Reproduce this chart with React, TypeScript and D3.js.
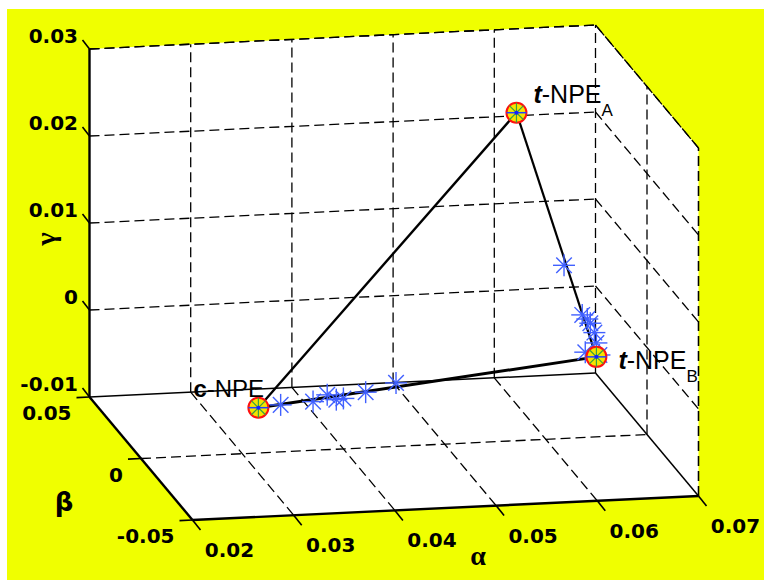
import React from "react";
import * as d3 from "d3";

// ---- data ----
const alphaTicks = [0.02, 0.03, 0.04, 0.05, 0.06, 0.07];
const betaTicks = [-0.05, 0, 0.05];
const gammaTicks = [-0.01, 0, 0.01, 0.02, 0.03];

const pointNames = ["c-NPE", "t-NPE_A", "t-NPE_B"];
const pointAlpha = [0.0316, 0.0571, 0.065];
const pointBeta = [0, 0, 0];
const pointGamma = [-0.0048, 0.0277, -0.0008];

const starAlpha = [0.0338, 0.037, 0.0384, 0.0393, 0.04, 0.0422, 0.0452, 0.0618, 0.0636, 0.0644, 0.065, 0.0639, 0.0653, 0.0648, 0.0641];
const starBeta = [0, 0, 0, 0, 0, 0, 0, 0, 0, 0, 0, 0, 0, 0, 0];
const starGamma = [-0.0046, -0.0044, -0.0037, -0.0043, -0.0042, -0.0036, -0.0027, 0.0099, 0.0041, 0.0031, 0.0008, -0.0002, -0.0006, 0.002, 0.0036];

// ---- projection ----
const W = 764, H = 580;
const sa = d3.scaleLinear().domain([0.02, 0.07]).range([0, 1]);
const sb = d3.scaleLinear().domain([0.05, -0.05]).range([0, 1]);
const sg = d3.scaleLinear().domain([-0.01, 0.03]).range([0, 1]);
const O = [89.5, 397];
const EA = [506, -24];
const EB = [103, 123];
const EG = [0, -348];
function P(a: number, b: number, g: number): [number, number] {
  const u = sa(a), v = sb(b), w = sg(g);
  return [O[0] + EA[0] * u + EB[0] * v + EG[0] * w, O[1] + EA[1] * u + EB[1] * v + EG[1] * w];
}
const aMin = 0.02, aMax = 0.07, bMin = -0.05, bMax = 0.05, gMin = -0.01, gMax = 0.03;

const line = d3.line<[number, number]>();
const fmt = (v: number) => (v === 0 ? "0" : v.toFixed(2));

function Seg({ p, q, dash, w = 1.3 }: { p: [number, number]; q: [number, number]; dash?: boolean; w?: number }) {
  return <line x1={p[0]} y1={p[1]} x2={q[0]} y2={q[1]} stroke="#000" strokeWidth={w} strokeDasharray={dash ? "10,5" : undefined} />;
}

function Star({ x, y, r = 11 }: { x: number; y: number; r?: number }) {
  const d = r * 0.707;
  return (
    <g stroke="#4060ff" strokeWidth={1.4}>
      <line x1={x - r} y1={y} x2={x + r} y2={y} />
      <line x1={x} y1={y - r} x2={x} y2={y + r} />
      <line x1={x - d} y1={y - d} x2={x + d} y2={y + d} />
      <line x1={x - d} y1={y + d} x2={x + d} y2={y - d} />
    </g>
  );
}

function MainMarker({ x, y }: { x: number; y: number }) {
  const r = 10, d = r * 0.707;
  return (
    <g>
      <circle cx={x} cy={y} r={r} fill="#f4e400" stroke="#ff1010" strokeWidth={2} />
      <g stroke="#3aa040" strokeWidth={1.2}>
        <line x1={x} y1={y - r} x2={x} y2={y + r} />
        <line x1={x - d} y1={y - d} x2={x + d} y2={y + d} />
        <line x1={x - d} y1={y + d} x2={x + d} y2={y - d} />
      </g>
      <line x1={x - r} y1={y} x2={x + r} y2={y} stroke="#2040ff" strokeWidth={1.5} />
      <circle cx={x} cy={y} r={2} fill="#1020ff" />
    </g>
  );
}

export default function App() {
  const hex = [P(aMin, bMax, gMax), P(aMax, bMax, gMax), P(aMax, bMin, gMax), P(aMax, bMin, gMin), P(aMin, bMin, gMin), P(aMin, bMax, gMin)];
  const grid: JSX.Element[] = [];
  let k = 0;
  // back wall (beta = 0.05)
  alphaTicks.slice(1).forEach((a) => grid.push(<Seg key={k++} p={P(a, bMax, gMin)} q={P(a, bMax, gMax)} dash />));
  gammaTicks.slice(1).forEach((g) => grid.push(<Seg key={k++} p={P(aMin, bMax, g)} q={P(aMax, bMax, g)} dash />));
  // right wall (alpha = 0.07)
  betaTicks.slice(0, 2).forEach((b) => grid.push(<Seg key={k++} p={P(aMax, b, gMin)} q={P(aMax, b, gMax)} dash />));
  gammaTicks.slice(1).forEach((g) => grid.push(<Seg key={k++} p={P(aMax, bMax, g)} q={P(aMax, bMin, g)} dash />));
  // floor
  alphaTicks.slice(1, -1).forEach((a) => grid.push(<Seg key={k++} p={P(a, bMax, gMin)} q={P(a, bMin, gMin)} dash />));
  grid.push(<Seg key={k++} p={P(aMin, 0, gMin)} q={P(aMax, 0, gMin)} dash />);
  // solid edges
  grid.push(<Seg key={k++} p={P(aMin, bMax, gMin)} q={P(aMax, bMax, gMin)} w={1.5} />);
  grid.push(<Seg key={k++} p={P(aMax, bMax, gMin)} q={P(aMax, bMin, gMin)} w={1.5} />);

  const axes = [
    <Seg key="z" p={P(aMin, bMax, gMin)} q={P(aMin, bMax, gMax)} w={2.4} />,
    <Seg key="y" p={P(aMin, bMax, gMin)} q={P(aMin, bMin, gMin)} w={2.4} />,
    <Seg key="x" p={P(aMin, bMin, gMin)} q={P(aMax, bMin, gMin)} w={2.4} />,
  ];

  const tickFont = { fontFamily: "'DejaVu Sans', sans-serif", fontWeight: 700, fontSize: 20 };

  const pts = pointAlpha.map((a, i) => P(a, pointBeta[i], pointGamma[i]));
  const stars = starAlpha.map((a, i) => P(a, starBeta[i], starGamma[i]));

  return (
    <div style={{ position: "fixed", left: 0, top: 0 }}>
      <svg width={W} height={H} style={{ display: "block" }}>
        <rect x={0} y={0} width={W} height={H} fill="#fff" />
        <rect x={7} y={9} width={W - 7} height={H - 9} fill="#f0ff00" />
        <polygon points={hex.map((p) => p.join(",")).join(" ")} fill="#fff" />
        <path d={line([hex[0], hex[1], hex[2], hex[3]]) || ""} fill="none" stroke="#000" strokeWidth={1.3} strokeDasharray="10,5" />
        {grid}
        {axes}
        {/* gamma ticks */}
        {gammaTicks.map((g) => {
          const p = P(aMin, bMax, g);
          return (
            <g key={"g" + g}>
              <line x1={p[0]} y1={p[1]} x2={p[0] - 7} y2={p[1] - 9} stroke="#000" strokeWidth={1.6} />
              <text x={78} y={p[1] - 13} textAnchor="end" dominantBaseline="central" {...tickFont}>
                {fmt(g)}
              </text>
            </g>
          );
        })}
        {/* beta ticks */}
        {betaTicks.map((b) => {
          const p = P(aMin, b, gMin);
          return (
            <g key={"b" + b}>
              <line x1={p[0]} y1={p[1]} x2={p[0] - 13} y2={p[1] + 0.6} stroke="#000" strokeWidth={1.6} />
              <text x={p[0] - 18} y={p[1] + 16} textAnchor="end" dominantBaseline="central" {...tickFont}>
                {fmt(b)}
              </text>
            </g>
          );
        })}
        {/* alpha ticks */}
        {alphaTicks.map((a) => {
          const p = P(a, bMin, gMin);
          return (
            <g key={"a" + a}>
              <line x1={p[0]} y1={p[1]} x2={p[0] + 8} y2={p[1] + 10} stroke="#000" strokeWidth={1.6} />
              <text x={p[0] + 37} y={p[1] + 30} textAnchor="middle" dominantBaseline="central" {...tickFont}>
                {fmt(a)}
              </text>
            </g>
          );
        })}
        {/* axis labels */}
        <text x={45} y={239} transform="rotate(-90 45 239)" textAnchor="middle" dominantBaseline="central" fontFamily="'Liberation Serif', serif" fontWeight={700} fontSize={28}>γ</text>
        <text x={64} y={502} textAnchor="middle" dominantBaseline="central" fontFamily="'DejaVu Sans', sans-serif" fontWeight={700} fontSize={26}>β</text>
        <text x={478} y={555} textAnchor="middle" dominantBaseline="central" fontFamily="'Liberation Serif', serif" fontWeight={700} fontSize={28}>α</text>

        {/* data */}
        <line x1={pts[0][0]} y1={pts[0][1]} x2={pts[1][0]} y2={pts[1][1]} stroke="#000" strokeWidth={2.4} />
        <line x1={pts[1][0]} y1={pts[1][1]} x2={pts[2][0]} y2={pts[2][1]} stroke="#000" strokeWidth={2.2} />
        <line x1={pts[2][0]} y1={pts[2][1]} x2={pts[0][0]} y2={pts[0][1]} stroke="#000" strokeWidth={3} />
        {stars.map((p, i) => <Star key={"s" + i} x={p[0]} y={p[1]} />)}
        {pts.map((p, i) => <MainMarker key={"m" + i} x={p[0]} y={p[1]} />)}

        {/* point labels */}
        <text x={pts[0][0] - 65} y={pts[0][1] - 11} fontFamily="'Liberation Sans', Arial, sans-serif" fontSize={24}>
          <tspan fontWeight={700}>c</tspan>-NPE
        </text>
        <text x={pts[1][0] + 17} y={pts[1][1] - 10} fontFamily="'Liberation Sans', Arial, sans-serif" fontSize={25}>
          <tspan fontWeight={700} fontStyle="italic">t</tspan>-NPE
          <tspan fontSize={17} dy={13}>A</tspan>
        </text>
        <text x={pts[2][0] + 22} y={pts[2][1] + 12} fontFamily="'Liberation Sans', Arial, sans-serif" fontSize={25}>
          <tspan fontWeight={700} fontStyle="italic">t</tspan>-NPE
          <tspan fontSize={17} dy={13}>B</tspan>
        </text>
      </svg>
    </div>
  );
}
